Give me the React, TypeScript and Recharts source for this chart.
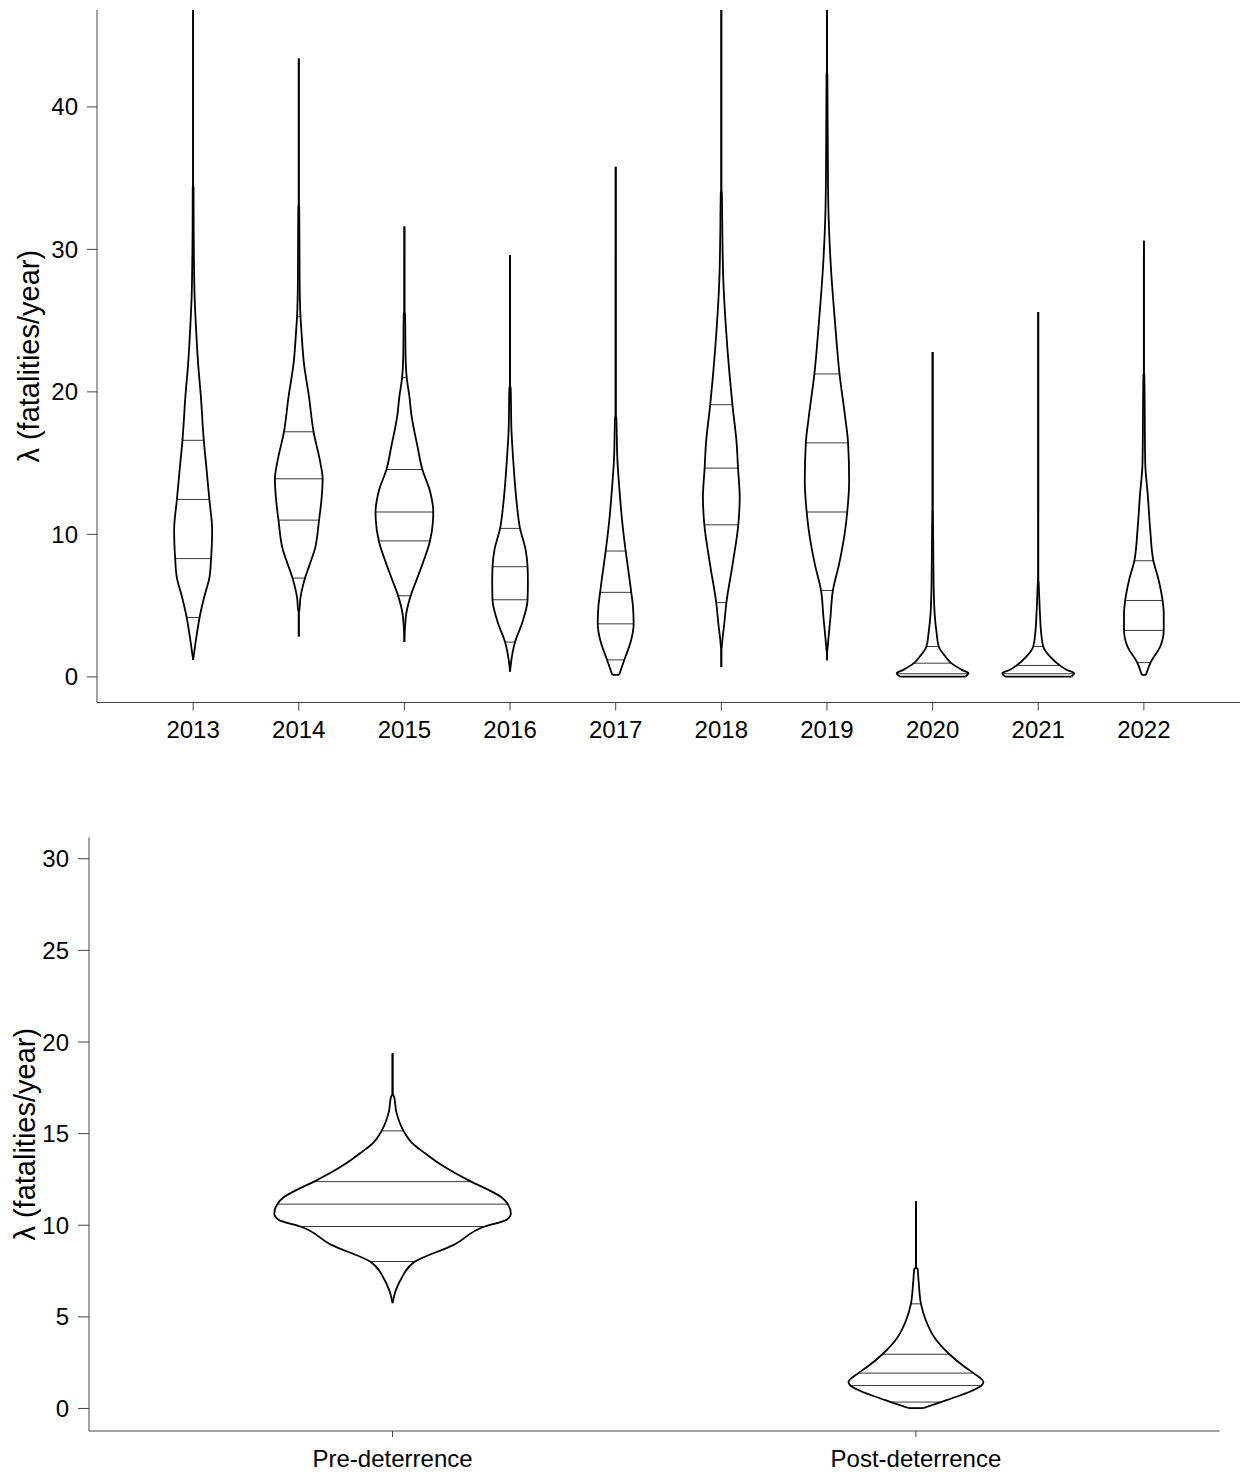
import React from 'react';
import { ScatterChart, Scatter, XAxis, YAxis, ReferenceLine } from 'recharts';

type Profile = [number, number][];

// ---- Top panel: yearly posterior of lambda ----
const years = [2013, 2014, 2015, 2016, 2017, 2018, 2019, 2020, 2021, 2022];
const yearValueTicks = [0, 10, 20, 30, 40];

// density profiles: [value, half-width (fraction of category spacing)], top to bottom
const violin2013: Profile = [[46.8, 0], [34.5, 0], [34.3, 0.004], [31.4, 0.005], [29.1, 0.008], [26.7, 0.014], [24.4, 0.028], [22.0, 0.047], [19.7, 0.073], [16.6, 0.101], [14.5, 0.128], [12.5, 0.153], [10.3, 0.18], [8.3, 0.17], [7.0, 0.155], [5.6, 0.105], [4.2, 0.062], [2.5, 0.025], [1.2, 0]];
const violin2014: Profile = [[43.4, 0], [33.1, 0], [33.0, 0.004], [31.4, 0.006], [27.9, 0.008], [25.3, 0.016], [24.4, 0.024], [22.0, 0.049], [19.7, 0.096], [17.2, 0.14], [15.0, 0.205], [13.9, 0.226], [12.7, 0.218], [11.0, 0.192], [8.9, 0.15], [8.0, 0.109], [6.9, 0.058], [5.5, 0.015], [4.7, 0.006], [4.5, 0], [2.83, 0]];
const violin2015: Profile = [[31.6, 0], [25.6, 0], [25.5, 0.006], [22.5, 0.011], [21.0, 0.022], [19.7, 0.047], [18.3, 0.068], [16.2, 0.123], [14.55, 0.17], [13.1, 0.24], [11.6, 0.273], [11.0, 0.271], [9.5, 0.241], [8.0, 0.175], [6.8, 0.115], [5.7, 0.06], [4.5, 0.019], [3.5, 0.006], [2.44, 0]];
const violin2016: Profile = [[29.6, 0], [20.4, 0], [20.3, 0.006], [17.4, 0.013], [15.0, 0.032], [12.2, 0.063], [10.4, 0.095], [8.9, 0.148], [7.7, 0.166], [6.6, 0.169], [5.4, 0.166], [3.8, 0.115], [2.44, 0.047], [1.2, 0.013], [0.37, 0]];
const violin2017: Profile = [[35.8, 0], [18.3, 0], [18.2, 0.006], [17.4, 0.009], [15.25, 0.016], [13.1, 0.036], [10.8, 0.063], [8.8, 0.095], [8.0, 0.11], [5.9, 0.148], [4.9, 0.164], [3.7, 0.17], [2.6, 0.147], [1.2, 0.082], [0.14, 0.032]];
const violin2018: Profile = [[46.8, 0], [34.2, 0], [34.0, 0.005], [31.0, 0.01], [27.8, 0.019], [24.9, 0.04], [21.3, 0.077], [19.1, 0.105], [16.4, 0.145], [14.65, 0.158], [12.6, 0.174], [10.7, 0.161], [7.95, 0.108], [5.2, 0.048], [3.6, 0.026], [2.6, 0.01], [2.0, 0.003], [1.8, 0], [0.69, 0]];
const violin2019: Profile = [[46.8, 0], [42.5, 0], [42.3, 0.004], [34.6, 0.01], [32.2, 0.016], [28.55, 0.039], [24.9, 0.076], [21.26, 0.119], [18.13, 0.174], [16.42, 0.2], [13.77, 0.21], [11.57, 0.192], [10.38, 0.174], [7.95, 0.116], [6.06, 0.056], [4.08, 0.032], [2.62, 0.013], [1.8, 0.003], [1.6, 0], [1.17, 0]];
const violin2020: Profile = [[22.8, 0], [11.7, 0], [11.6, 0.003], [6.8, 0.009], [4.47, 0.019], [3.07, 0.038], [2.13, 0.058], [1.43, 0.121], [0.96, 0.177], [0.49, 0.277], [0.25, 0.34], [0.02, 0.31]];
const violin2021: Profile = [[25.6, 0], [6.8, 0], [6.7, 0.003], [5.87, 0.008], [4.47, 0.016], [3.07, 0.028], [2.13, 0.047], [1.43, 0.11], [0.8, 0.205], [0.49, 0.27], [0.25, 0.34], [0.02, 0.315]];
const violin2022: Profile = [[30.6, 0], [21.3, 0], [21.2, 0.004], [15.0, 0.013], [12.67, 0.038], [10.33, 0.06], [8.15, 0.09], [6.82, 0.139], [5.36, 0.177], [4.47, 0.188], [3.26, 0.188], [2.13, 0.155], [1.0, 0.063], [0.14, 0.02]];

const quantiles2013 = [16.6, 12.45, 8.3, 4.17];
const quantiles2014 = [25.3, 17.2, 13.9, 11.0, 6.93];
const quantiles2015 = [21.0, 14.55, 11.57, 9.54, 5.69];
const quantiles2016 = [10.42, 7.73, 5.41, 2.44];
const quantiles2017 = [8.83, 5.93, 3.72, 1.19];
const quantiles2018 = [19.1, 14.65, 10.67, 5.21];
const quantiles2019 = [21.26, 16.42, 11.57, 6.06];
const quantiles2020 = [2.13, 0.96, 0.22];
const quantiles2021 = [2.13, 0.8, 0.22];
const quantiles2022 = [8.15, 5.36, 3.26, 1.0];

// ---- Bottom panel: pre vs post deterrence ----
const groups = ['Pre-deterrence', 'Post-deterrence'];
const groupValueTicks = [0, 5, 10, 15, 20, 25, 30];
const violinPre: Profile = [[19.38, 0], [17.2, 0], [17.0, 0.003], [16.2, 0.007], [15.15, 0.021], [14.5, 0.037], [13.93, 0.062], [13.35, 0.09], [12.38, 0.15], [11.9, 0.185], [11.53, 0.208], [11.16, 0.22], [10.64, 0.226], [10.3, 0.218], [9.93, 0.176], [8.93, 0.117], [8.02, 0.043], [7.11, 0.017], [6.43, 0.006], [5.75, 0]];
const violinPost: Profile = [[11.31, 0], [7.7, 0], [7.62, 0.003], [6.98, 0.005], [5.71, 0.0096], [4.8, 0.019], [3.89, 0.035], [2.96, 0.064], [2.25, 0.094], [1.93, 0.11], [1.44, 0.129], [1.25, 0.125], [0.98, 0.108], [0.44, 0.057], [0.02, 0.014]];
const quantilesPre = [15.15, 12.38, 11.15, 9.93, 8.02];
const quantilesPost = [5.71, 2.96, 1.93, 1.25, 0.35];

const yLabel = 'λ (fatalities/year)';

const FONT = '"Liberation Sans", Arial, Helvetica, sans-serif';
const AXIS = '#444';
const NoDot = () => <g />;

function widthAt(profile: Profile, q: number): number {
  for (let i = 0; i < profile.length - 1; i++) {
    const [v0, w0] = profile[i];
    const [v1, w1] = profile[i + 1];
    if (q <= v0 && q >= v1) {
      const t = v0 === v1 ? 0 : (v0 - q) / (v0 - v1);
      return w0 + (w1 - w0) * t;
    }
  }
  return 0;
}

function violinMarks(pos: number, profile: Profile, quantiles: number[], id: string) {
  const right = profile.map(([v, w]) => ({ x: pos + w, y: v }));
  const left = profile.map(([v, w]) => ({ x: pos - w, y: v }));
  const lineStyle = { stroke: '#000', strokeWidth: 1.8, fill: 'none' };
  const els: React.ReactNode[] = [];
  els.push(
    <Scatter key={id + 'r'} data={right} line={lineStyle} lineType="joint" lineJointType="monotoneY"
      shape={NoDot} fill="none" isAnimationActive={false} legendType="none" />
  );
  els.push(
    <Scatter key={id + 'l'} data={left} line={lineStyle} lineType="joint" lineJointType="monotoneY"
      shape={NoDot} fill="none" isAnimationActive={false} legendType="none" />
  );
  quantiles.forEach((q, i) => {
    const w = widthAt(profile, q);
    els.push(
      <ReferenceLine key={id + 'q' + i} segment={[{ x: pos - w, y: q }, { x: pos + w, y: q }]}
        stroke="#3a3a3a" strokeWidth={1} ifOverflow="visible" />
    );
  });
  const [bv, bw] = profile[profile.length - 1];
  if (bw > 0) {
    els.push(
      <ReferenceLine key={id + 'b'} segment={[{ x: pos - bw, y: bv }, { x: pos + bw, y: bv }]}
        stroke="#000" strokeWidth={1.8} ifOverflow="visible" />
    );
  }
  return els;
}

const yearProfiles = [violin2013, violin2014, violin2015, violin2016, violin2017, violin2018, violin2019, violin2020, violin2021, violin2022];
const yearQuantiles = [quantiles2013, quantiles2014, quantiles2015, quantiles2016, quantiles2017, quantiles2018, quantiles2019, quantiles2020, quantiles2021, quantiles2022];
const groupProfiles = [violinPre, violinPost];
const groupQuantiles = [quantilesPre, quantilesPost];

export default function App() {
  const tickStyle = { fill: '#000', fontSize: 24, fontFamily: FONT };
  const labelStyle = { fill: '#000', fontSize: 29, fontFamily: FONT };
  return (
    <div style={{ position: 'absolute', left: 0, top: 0, width: 1248, height: 1473, background: '#fff' }}>
      <ScatterChart width={1248} height={760} margin={{ top: 10, right: 8, bottom: 0, left: 0 }}>
        <XAxis type="number" dataKey="x" domain={[2012.09, 2022.91]} ticks={years} allowDataOverflow
          interval={0} tickFormatter={(v: number) => String(v)} height={57.5} tickSize={8} tickMargin={10}
          axisLine={{ stroke: AXIS }} tickLine={{ stroke: AXIS }} tick={tickStyle} />
        <YAxis type="number" dataKey="y" domain={[-1.8, 46.8]} ticks={yearValueTicks} allowDataOverflow
          interval={0} width={97} tickSize={10} tickMargin={9}
          axisLine={{ stroke: AXIS }} tickLine={{ stroke: AXIS }} tick={tickStyle}
          label={{ value: yLabel, angle: -90, position: 'center', dx: -20, style: labelStyle }} />
        {years.flatMap((yr, i) => violinMarks(yr, yearProfiles[i], yearQuantiles[i], 'y' + yr))}
      </ScatterChart>
      <ScatterChart width={1248} height={713} margin={{ top: 77.5, right: 28.5, bottom: 0, left: 0 }}>
        <XAxis type="number" dataKey="x" domain={[-0.58, 1.58]} ticks={[0, 1]} allowDataOverflow
          interval={0} tickFormatter={(v: number) => groups[v] ?? ''} height={42} tickSize={6} tickMargin={13}
          axisLine={{ stroke: AXIS }} tickLine={{ stroke: AXIS }} tick={tickStyle} />
        <YAxis type="number" dataKey="y" domain={[-1.23, 31.16]} ticks={groupValueTicks} allowDataOverflow
          interval={0} width={89} tickSize={11} tickMargin={9}
          axisLine={{ stroke: AXIS }} tickLine={{ stroke: AXIS }} tick={tickStyle}
          label={{ value: yLabel, angle: -90, position: 'center', dx: -20, style: labelStyle }} />
        {groups.flatMap((g, i) => violinMarks(i, groupProfiles[i], groupQuantiles[i], 'g' + i))}
      </ScatterChart>
    </div>
  );
}
